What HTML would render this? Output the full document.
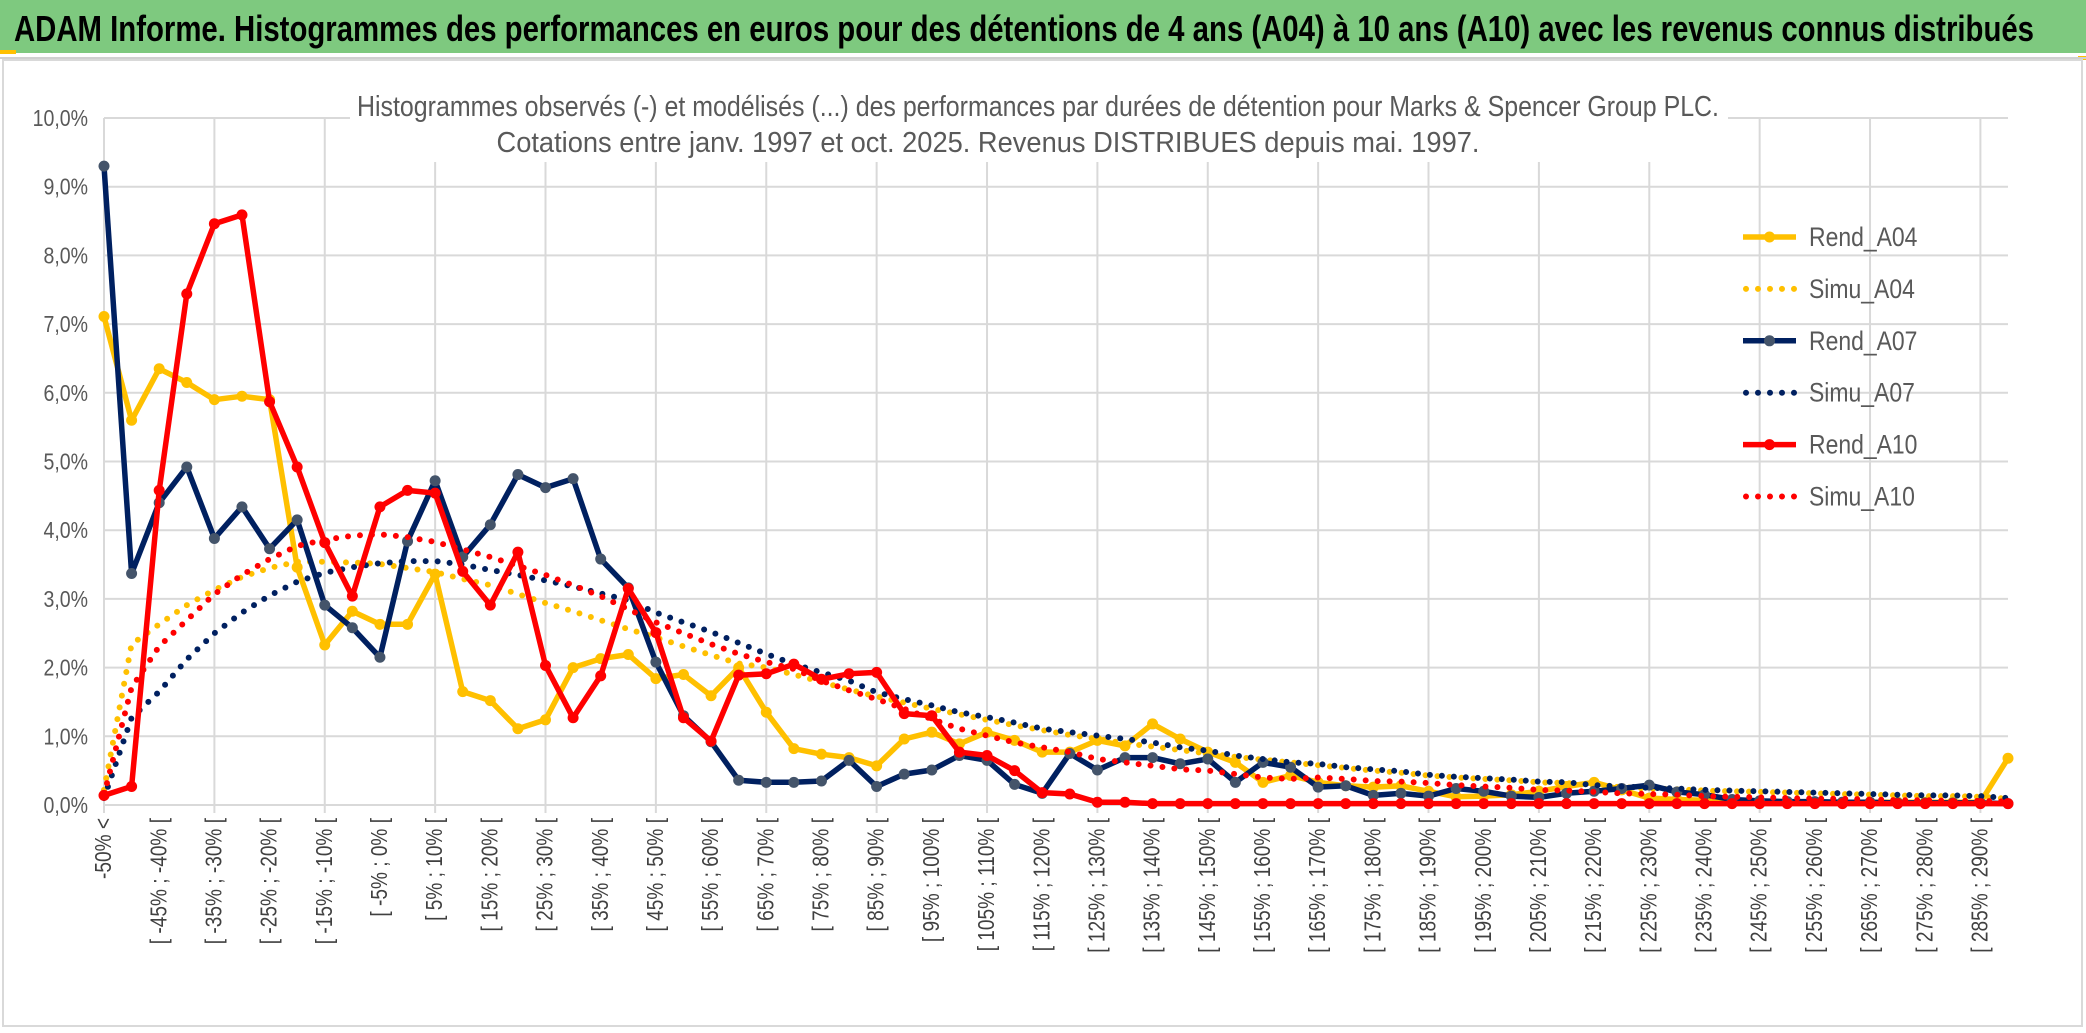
<!DOCTYPE html>
<html><head><meta charset="utf-8">
<style>
html,body{margin:0;padding:0;background:#fff;}
svg{display:block;}
</style></head>
<body>
<svg id="chart" width="2086" height="1033" viewBox="0 0 2086 1033" xmlns="http://www.w3.org/2000/svg">
  <rect x="0" y="0" width="2086" height="53" fill="#7EC97F"/>
  <rect x="0" y="50" width="16" height="4" fill="#FFC000"/>
  <rect x="2078" y="56" width="8" height="4" fill="#FFC000"/>
  <text x="14" y="41" font-family="Liberation Sans, sans-serif" font-weight="bold" font-size="36" fill="#000" textLength="2020" lengthAdjust="spacingAndGlyphs">ADAM Informe. Histogrammes des performances en euros pour des détentions de 4 ans (A04) à 10 ans (A10) avec les revenus connus distribués</text>
  <line x1="0" y1="58" x2="2086" y2="58" stroke="#D0D0D0" stroke-width="2"/>
  <rect x="3" y="60" width="2079" height="966" fill="none" stroke="#D9D9D9" stroke-width="2"/>
  <g id="grid"></g>
  <rect x="350" y="84" width="1378" height="78" fill="#fff"/>
  <text x="1038" y="116" text-anchor="middle" font-family="Liberation Sans, sans-serif" font-size="29" fill="#595959" textLength="1362" lengthAdjust="spacingAndGlyphs">Histogrammes observés (-) et modélisés (...) des performances par durées de détention pour Marks &amp; Spencer Group PLC.</text>
  <text x="988" y="152" text-anchor="middle" font-family="Liberation Sans, sans-serif" font-size="29" fill="#595959" textLength="983" lengthAdjust="spacingAndGlyphs">Cotations entre janv. 1997 et oct. 2025. Revenus DISTRIBUES depuis mai. 1997.</text>
  <g id="yaxis"></g>
  <g id="xaxis"></g>
  <g id="series"></g>
  <g id="legend"></g>
</svg>
<script>
const yTicks = [0,1,2,3,4,5,6,7,8,9,10];
const yTickLabels = ["0,0%","1,0%","2,0%","3,0%","4,0%","5,0%","6,0%","7,0%","8,0%","9,0%","10,0%"];
const rendA04 = [7.11,5.6,6.35,6.15,5.9,5.95,5.9,3.46,2.33,2.82,2.63,2.63,3.36,1.65,1.52,1.11,1.24,2.0,2.13,2.19,1.84,1.9,1.59,2.0,1.35,0.82,0.74,0.69,0.57,0.96,1.06,0.89,1.06,0.94,0.77,0.77,0.94,0.86,1.18,0.96,0.77,0.62,0.33,0.43,0.33,0.28,0.26,0.28,0.2,0.12,0.13,0.15,0.2,0.27,0.33,0.22,0.1,0.08,0.07,0.05,0.05,0.05,0.04,0.04,0.04,0.04,0.04,0.04,0.04,0.68];
const simuA04 = [0.22,2.34,2.63,2.91,3.13,3.32,3.45,3.54,3.54,3.53,3.51,3.45,3.39,3.29,3.2,3.07,2.94,2.82,2.69,2.56,2.44,2.31,2.18,2.06,2.0,1.9,1.79,1.68,1.58,1.49,1.4,1.32,1.24,1.16,1.09,1.02,0.96,0.9,0.85,0.8,0.75,0.7,0.66,0.62,0.58,0.54,0.5,0.47,0.43,0.4,0.38,0.36,0.33,0.32,0.28,0.26,0.24,0.23,0.21,0.2,0.19,0.18,0.17,0.16,0.15,0.14,0.13,0.13,0.12,0.09];
const rendA07 = [9.3,3.37,4.4,4.92,3.88,4.34,3.73,4.15,2.91,2.58,2.15,3.84,4.72,3.61,4.08,4.81,4.62,4.75,3.58,3.16,2.08,1.3,0.92,0.36,0.33,0.33,0.35,0.65,0.27,0.45,0.51,0.72,0.65,0.3,0.17,0.75,0.51,0.69,0.69,0.6,0.67,0.33,0.62,0.55,0.26,0.28,0.14,0.17,0.13,0.24,0.2,0.13,0.11,0.17,0.2,0.24,0.29,0.19,0.15,0.08,0.06,0.05,0.05,0.04,0.04,0.03,0.03,0.03,0.03,0.02];
const simuA07 = [0.1,1.27,1.65,2.12,2.5,2.8,3.05,3.25,3.38,3.46,3.52,3.55,3.55,3.5,3.42,3.35,3.27,3.18,3.08,2.98,2.8,2.66,2.52,2.36,2.2,2.05,1.93,1.81,1.64,1.54,1.45,1.35,1.28,1.2,1.11,1.06,1.01,0.96,0.91,0.84,0.79,0.72,0.67,0.62,0.6,0.55,0.52,0.49,0.44,0.41,0.39,0.37,0.34,0.33,0.29,0.27,0.25,0.24,0.22,0.21,0.2,0.19,0.18,0.17,0.16,0.15,0.14,0.14,0.13,0.1];
const rendA10 = [0.14,0.27,4.58,7.44,8.46,8.59,5.87,4.92,3.82,3.04,4.34,4.58,4.54,3.4,2.91,3.68,2.03,1.27,1.88,3.15,2.51,1.27,0.93,1.89,1.91,2.05,1.83,1.91,1.93,1.33,1.3,0.77,0.72,0.5,0.18,0.16,0.04,0.04,0.02,0.02,0.02,0.02,0.02,0.02,0.02,0.02,0.02,0.02,0.02,0.02,0.02,0.02,0.02,0.02,0.02,0.02,0.02,0.02,0.02,0.02,0.02,0.02,0.02,0.02,0.02,0.02,0.02,0.02,0.02,0.02];
const simuA10 = [0.15,1.71,2.31,2.69,3.07,3.35,3.58,3.77,3.86,3.92,3.94,3.9,3.83,3.72,3.61,3.48,3.35,3.2,3.04,2.85,2.66,2.5,2.34,2.2,2.08,1.98,1.81,1.67,1.54,1.4,1.25,1.11,1.01,0.91,0.84,0.77,0.67,0.62,0.57,0.52,0.5,0.45,0.4,0.38,0.4,0.38,0.35,0.34,0.32,0.29,0.27,0.25,0.22,0.21,0.19,0.17,0.16,0.15,0.13,0.12,0.11,0.1,0.09,0.09,0.08,0.07,0.07,0.06,0.06,0.05];
const seriesNames = ["Rend_A04","Simu_A04","Rend_A07","Simu_A07","Rend_A10","Simu_A10"];

const categories = ["-50% <"];
for (let k = 1; k < 69; k++) {
  const a = -55 + 5*k, b = -50 + 5*k;
  categories.push("[ " + a + "% ; " + b + "% [");
}
categories.push("290% >=");

const NS = "http://www.w3.org/2000/svg";
const X0 = 104, X1 = 2008, Y0 = 805, YTOP = 118;
const xScale = i => X0 + i * (X1 - X0) / (categories.length - 1);
const yScale = v => Y0 - v * (Y0 - YTOP) / 10;

function mk(tag, attrs, parent) {
  const e = document.createElementNS(NS, tag);
  for (const k in attrs) e.setAttribute(k, attrs[k]);
  parent.appendChild(e);
  return e;
}

const grid = document.getElementById('grid');
yTicks.forEach((t, i) => {
  const l = mk('line', {x1: X0, x2: X1, y1: yScale(t), y2: yScale(t), stroke: '#D9D9D9', 'stroke-width': 2}, grid);
  
  
});
for (let i = 0; i < categories.length; i += 4) {
  const l = mk('line', {x1: xScale(i), x2: xScale(i), y1: yScale(10), y2: Y0 + 8, stroke: '#D9D9D9', 'stroke-width': 2}, grid);
  
  
}

const yaxis = document.getElementById('yaxis');
yTicks.forEach((t, i) => {
  const tx = mk('text', {x: 0, y: 0, 'text-anchor': 'end', transform: 'translate(88 ' + (yScale(t) + 8) + ') scale(0.85 1)', 'font-family': 'Liberation Sans, sans-serif', 'font-size': 23, fill: '#595959'}, yaxis);
  tx.textContent = yTickLabels[i];
  
  
});

const xaxis = document.getElementById('xaxis');
categories.forEach((c, i) => {
  if (i % 2 !== 0 || i === categories.length - 1) return;
  const x = xScale(i), y = 818;
  const tx = mk('text', {x: 0, y: 0, 'text-anchor': 'end', 'dominant-baseline': 'central', transform: 'translate(' + x + ' ' + y + ') rotate(-90) scale(0.83 1)', 'font-family': 'Liberation Sans, sans-serif', 'font-size': 23, fill: '#404040'}, xaxis);
  tx.textContent = c;
  
  
});

const seriesG = document.getElementById('series');
function pts(arr) { return arr.map((v, i) => xScale(i).toFixed(1) + ',' + yScale(v).toFixed(1)).join(' '); }
function drawRend(arr, lineColor, markerColor, name) {
  const g = mk('g', {}, seriesG);
  
  
  const pl = mk('polyline', {points: pts(arr), fill: 'none', stroke: lineColor, 'stroke-width': 5.5, 'stroke-linejoin': 'round'}, g);
  
  
  arr.forEach((v, i) => {
    const c = mk('circle', {cx: xScale(i), cy: yScale(v), r: 5.5, fill: markerColor}, g);
    
    
  });
}
function drawSimu(arr, color, name) {
  const pl = mk('polyline', {points: pts(arr), fill: 'none', stroke: color, 'stroke-width': 6, 'stroke-linecap': 'round', 'stroke-dasharray': '0 12'}, seriesG);
  
  
}
drawRend(rendA04, '#FFC000', '#FFC000', 'rend-a04');
drawSimu(simuA04, '#FFC000', 'simu-a04');
drawRend(rendA07, '#002060', '#44546A', 'rend-a07');
drawSimu(simuA07, '#002060', 'simu-a07');
drawRend(rendA10, '#FF0000', '#FF0000', 'rend-a10');
drawSimu(simuA10, '#FF0000', 'simu-a10');

const legend = document.getElementById('legend');
const legColors = ['#FFC000','#FFC000','#002060','#002060','#FF0000','#FF0000'];
const legMarkers = ['#FFC000',null,'#44546A',null,'#FF0000',null];
seriesNames.forEach((n, i) => {
  const y = 237 + i * 51.9;
  const g = mk('g', {}, legend);
  
  
  if (legMarkers[i]) {
    mk('line', {x1: 1743, x2: 1796, y1: y, y2: y, stroke: legColors[i], 'stroke-width': 5.5}, g);
    mk('circle', {cx: 1769.5, cy: y, r: 5.5, fill: legMarkers[i]}, g);
  } else {
    mk('line', {x1: 1746, x2: 1796, y1: y, y2: y, stroke: legColors[i], 'stroke-width': 6, 'stroke-linecap': 'round', 'stroke-dasharray': '0 12'}, g);
  }
  const t = mk('text', {x: 0, y: 0, transform: 'translate(1809 ' + (y + 9) + ') scale(0.85 1)', 'font-family': 'Liberation Sans, sans-serif', 'font-size': 27, fill: '#595959'}, g);
  t.textContent = n;
});
</script>
</body></html>
